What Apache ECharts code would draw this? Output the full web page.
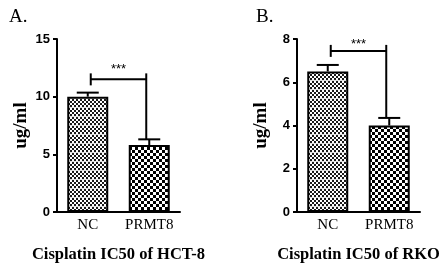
<!DOCTYPE html>
<html>
<head>
<meta charset="utf-8">
<script src="https://cdn.jsdelivr.net/npm/echarts@6/dist/echarts.min.js"></script>
<style>
  html, body { margin: 0; padding: 0; background: #fff; }
  #chart { width: 446px; height: 268px; }
</style>
</head>
<body>
<div id="chart"></div>
<script>
// data
const categories = ['NC', 'PRMT8'];
const hctMeans = [10.0, 5.8];
const hctErrTop = [10.35, 6.3];
const rkoMeans = [6.5, 4.0];
const rkoErrTop = [6.8, 4.35];
// significance brackets: [bracket level, star label level]
const hctBracket = [11.5, 12.4];
const rkoBracket = [7.45, 7.75];
const sigLabel = '***';

const panelLabels = ['A.', 'B.'];
const panelTitles = ['Cisplatin IC50 of HCT-8', 'Cisplatin IC50 of RKO'];
const yMax = [15, 8];
const yStep = [5, 2];

// bar fills
function fineCheck() {
    const c = document.createElement('canvas');
    c.width = 4; c.height = 9;
    const g = c.getContext('2d');
    g.fillStyle = '#fff';
    g.fillRect(0, 0, 4, 9);
    for (let y = 0; y < 8; y++) {
        for (let x = 0; x < 4; x++) {
            const on = (Math.floor(x / 2) + Math.floor(y / 2)) % 2 === 0;
            g.fillStyle = on ? '#1a1a1a' : '#fff';
            g.fillRect(x, y, 1, 1);
        }
    }
    g.fillStyle = '#e0e0e0';
    g.fillRect(0, 8, 4, 1);
    return c;
}
function coarseCheck() {
    const c = document.createElement('canvas');
    c.width = 6; c.height = 6;
    const g = c.getContext('2d');
    g.fillStyle = '#fff';
    g.fillRect(0, 0, 6, 6);
    g.fillStyle = '#000';
    g.fillRect(0, 0, 3, 3);
    g.fillRect(3, 3, 3, 3);
    return c;
}
const fills = [
    {image: fineCheck(), repeat: 'repeat'},
    {image: coarseCheck(), repeat: 'repeat'}
];

const serif = '"Liberation Serif", "Times New Roman", serif';
const sans = '"Liberation Sans", Arial, sans-serif';

function errorItem(params, api) {
    const base = api.coord([api.value(0), api.value(1)]);
    const top = api.coord([api.value(0), api.value(2)]);
    const style = {stroke: '#000', lineWidth: 2};
    return {
        type: 'group',
        children: [
            {type: 'line', shape: {x1: top[0], y1: base[1], x2: top[0], y2: top[1]}, style},
            {type: 'line', shape: {x1: top[0] - 11, y1: top[1], x2: top[0] + 11, y2: top[1]}, style}
        ]
    };
}

function bracketItem(params, api) {
    const l = api.coord([0, api.value(0)]);
    const r = api.coord([1, api.value(0)]);
    const bottom = api.coord([1, api.value(1)]);
    const star = api.coord([0, api.value(2)]);
    const x1 = l[0] + 3, x2 = r[0] - 3, y = l[1];
    const style = {stroke: '#000', lineWidth: 2};
    return {
        type: 'group',
        children: [
            {type: 'line', shape: {x1, y1: y, x2, y2: y}, style},
            {type: 'line', shape: {x1, y1: y - 6, x2: x1, y2: y + 6}, style},
            {type: 'line', shape: {x1: x2, y1: y - 6, x2: x2, y2: bottom[1]}, style},
            {type: 'text', x: (x1 + x2) / 2, y: star[1], style: {
                text: sigLabel, fill: '#000', font: '13px ' + sans,
                align: 'center', verticalAlign: 'middle'
            }}
        ]
    };
}

const grids = [
    {left: 57, top: 39, width: 123, height: 180},
    {left: 297, top: 39, width: 123, height: 180}
];

const xAxes = [0, 1].map(i => ({
    gridIndex: i,
    type: 'category',
    data: categories,
    boundaryGap: true,
    name: panelTitles[i],
    nameLocation: 'middle',
    nameGap: 34,
    nameTextStyle: {fontFamily: serif, fontWeight: 'bold', fontSize: 16.5, color: '#000'},
    axisLine: {lineStyle: {color: '#000', width: 2}},
    axisTick: {alignWithLabel: true, length: 5, lineStyle: {color: '#000', width: 2}},
    axisLabel: {interval: 0, fontFamily: serif, fontSize: 15, color: '#000', margin: 6}
}));

const yAxes = [0, 1].map(i => ({
    gridIndex: i,
    type: 'value',
    min: 0,
    max: yMax[i],
    interval: yStep[i],
    name: 'ug/ml',
    nameLocation: 'middle',
    nameGap: 26,
    nameTextStyle: {fontFamily: serif, fontWeight: 'bold', fontSize: 19, color: '#000'},
    axisLine: {show: true, lineStyle: {color: '#000', width: 2}},
    axisTick: {show: true, length: 4, lineStyle: {color: '#000', width: 2}},
    axisLabel: {fontFamily: sans, fontWeight: 'bold', fontSize: 13, color: '#000', margin: 7},
    splitLine: {show: false}
}));

const means = [hctMeans, rkoMeans];
const errTops = [hctErrTop, rkoErrTop];
const brackets = [hctBracket, rkoBracket];

const series = [];
[0, 1].forEach(i => {
    series.push({
        type: 'custom',
        xAxisIndex: i, yAxisIndex: i,
        renderItem: errorItem,
        clip: false,
        z: 1,
        data: categories.map((c, k) => [k, means[i][k], errTops[i][k]])
    });
    series.push({
        type: 'bar',
        xAxisIndex: i, yAxisIndex: i,
        barWidth: 41,
        z: 2,
        data: means[i].map((v, k) => ({
            value: v,
            itemStyle: {color: fills[k], borderColor: '#000', borderWidth: 2}
        }))
    });
    series.push({
        type: 'custom',
        xAxisIndex: i, yAxisIndex: i,
        renderItem: bracketItem,
        clip: false,
        z: 3,
        data: [[brackets[i][0], errTops[i][1], brackets[i][1]]]
    });
});

const chart = echarts.init(document.getElementById('chart'), null, {renderer: 'canvas'});
chart.setOption({
    backgroundColor: '#fff',
    animation: false,
    title: [
        {text: panelLabels[0], left: 4, top: 3, textStyle: {fontFamily: serif, fontWeight: 'normal', fontSize: 19, color: '#000'}},
        {text: panelLabels[1], left: 251, top: 3, textStyle: {fontFamily: serif, fontWeight: 'normal', fontSize: 19, color: '#000'}}
    ],
    grid: grids,
    xAxis: xAxes,
    yAxis: yAxes,
    series
});
</script>
</body>
</html>
